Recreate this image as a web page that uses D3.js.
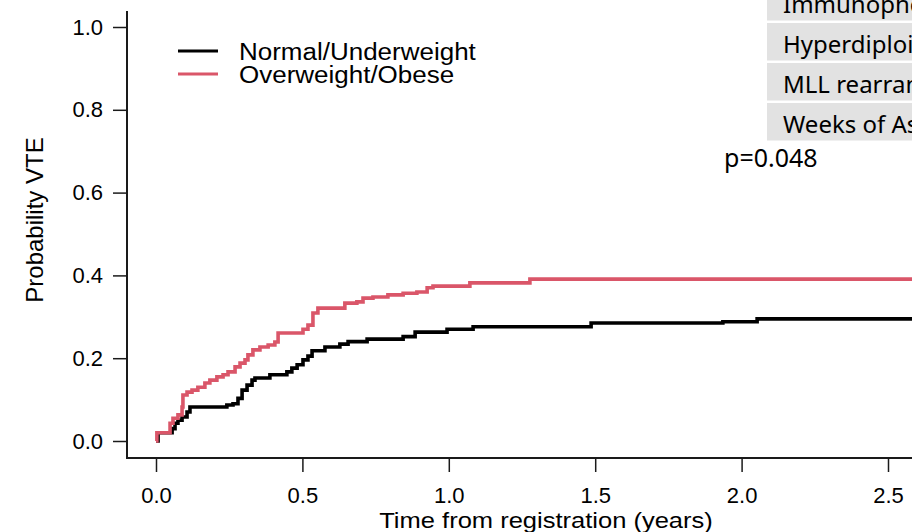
<!DOCTYPE html>
<html>
<head>
<meta charset="utf-8">
<script src="https://cdn.jsdelivr.net/npm/d3@7"></script>
<style>
  html, body { margin: 0; padding: 0; background: #fff; }
  svg { display: block; }
  text { font-family: "Liberation Sans", Arial, sans-serif; fill: #000; }
</style>
</head>
<body>
<div id="chart"></div>
<script>
// Cumulative incidence steps (years, probability)
const normalTimes = [0, 0.007, 0.055, 0.065, 0.075, 0.089, 0.106, 0.116, 0.242, 0.263, 0.28, 0.294, 0.311, 0.328, 0.338, 0.389, 0.447, 0.464, 0.482, 0.502, 0.519, 0.533, 0.577, 0.628, 0.656, 0.721, 0.844, 0.885, 0.994, 1.083, 1.486, 1.936, 2.053, 2.7];
const normalProb  = [0, 0.02, 0.03, 0.043, 0.05, 0.058, 0.07, 0.082, 0.087, 0.09, 0.103, 0.123, 0.135, 0.147, 0.152, 0.16, 0.167, 0.176, 0.184, 0.196, 0.205, 0.218, 0.227, 0.234, 0.24, 0.246, 0.252, 0.263, 0.27, 0.276, 0.285, 0.288, 0.295, 0.295];

const overTimes = [0, 0.003, 0.048, 0.058, 0.075, 0.089, 0.092, 0.106, 0.123, 0.143, 0.167, 0.184, 0.208, 0.229, 0.246, 0.27, 0.287, 0.304, 0.314, 0.331, 0.355, 0.383, 0.406, 0.417, 0.502, 0.519, 0.536, 0.553, 0.645, 0.686, 0.707, 0.741, 0.792, 0.844, 0.891, 0.926, 0.946, 1.072, 1.277, 2.7];
const overProb  = [0, 0.02, 0.043, 0.055, 0.063, 0.082, 0.111, 0.118, 0.123, 0.13, 0.14, 0.147, 0.155, 0.16, 0.167, 0.179, 0.188, 0.196, 0.208, 0.22, 0.227, 0.232, 0.239, 0.261, 0.27, 0.28, 0.309, 0.321, 0.333, 0.336, 0.345, 0.348, 0.353, 0.357, 0.36, 0.37, 0.374, 0.382, 0.391, 0.391];

const groups = ['Normal/Underweight', 'Overweight/Obese'];
const groupColors = ['#000000', '#DA5669'];
const xTicks = [0, 0.5, 1, 1.5, 2, 2.5];
const yTicks = [0, 0.2, 0.4, 0.6, 0.8, 1.0];
const tableRows = ['Immunophenotype', 'Hyperdiploid', 'MLL rearranged', 'Weeks of Asparaginase'];
const pText = 'p=0.048';

const width = 912, height = 532;

const svg = d3.select('#chart').append('svg')
    .attr('width', width)
    .attr('height', height);

const x = d3.scaleLinear().domain([0, 2.5]).range([156, 888]);
const y = d3.scaleLinear().domain([0, 1]).range([441, 27]);

// table rows peeking in at top right
const rows = svg.append('g');
tableRows.forEach((t, i) => {
    const top = -17 + i * 40;
    rows.append('rect')
        .attr('x', 767).attr('y', top)
        .attr('width', 150).attr('height', 37.5)
        .attr('fill', '#e2e2e2');
    rows.append('text')
        .attr('x', 783).attr('y', top + 30)
        .style('font-family', '"Noto Sans", "Open Sans", sans-serif')
        .style('font-size', '24px')
        .text(t);
});

svg.append('text')
    .attr('x', 724).attr('y', 167)
    .style('font-family', '"Noto Sans", "Open Sans", sans-serif')
    .style('font-size', '25px')
    .text(pText);

// L-shaped frame
svg.append('path')
    .attr('d', 'M127,11V458H912')
    .attr('fill', 'none')
    .attr('stroke', '#1a1a1a')
    .attr('stroke-width', 2);

// axes
const yAxis = svg.append('g')
    .attr('transform', 'translate(127,0)')
    .call(d3.axisLeft(y).tickValues(yTicks).tickFormat(d3.format('.1f')).tickSize(14).tickPadding(10));
yAxis.select('.domain').remove();
yAxis.selectAll('line').attr('stroke', '#1a1a1a').attr('stroke-width', 1.5);
yAxis.selectAll('text')
    .style('font-family', '"Liberation Sans", Arial, sans-serif')
    .style('font-size', '22px')
    .attr('fill', '#000');

const xAxis = svg.append('g')
    .attr('transform', 'translate(0,458)')
    .call(d3.axisBottom(x).tickValues(xTicks).tickFormat(d3.format('.1f')).tickSize(14).tickPadding(15));
xAxis.select('.domain').remove();
xAxis.selectAll('line').attr('stroke', '#1a1a1a').attr('stroke-width', 1.5);
xAxis.selectAll('text')
    .style('font-family', '"Liberation Sans", Arial, sans-serif')
    .style('font-size', '22px')
    .attr('fill', '#000');

// axis titles
svg.append('text')
    .attr('transform', 'translate(546,528) scale(1.16,1)')
    .attr('text-anchor', 'middle')
    .style('font-size', '22px')
    .text('Time from registration (years)');

svg.append('text')
    .attr('transform', 'translate(43,220) rotate(-90)')
    .attr('text-anchor', 'middle')
    .style('font-size', '24px')
    .text('Probability VTE');

// curves
svg.append('clipPath').attr('id', 'plotclip')
    .append('rect').attr('x', 128).attr('y', 0).attr('width', width).attr('height', 457);

const line = d3.line()
    .x(d => x(d[0]))
    .y(d => y(d[1]))
    .curve(d3.curveStepAfter);

const series = [
    d3.zip(normalTimes, normalProb),
    d3.zip(overTimes, overProb)
];

svg.append('g').attr('clip-path', 'url(#plotclip)')
    .selectAll('path')
    .data(series)
    .enter()
    .append('path')
    .attr('d', line)
    .attr('fill', 'none')
    .attr('stroke', (d, i) => groupColors[i])
    .attr('stroke-width', 3.6);

// legend
const legend = svg.append('g');
groups.forEach((g, i) => {
    const ly = 51 + i * 23;
    legend.append('line')
        .attr('x1', 178).attr('x2', 218)
        .attr('y1', ly).attr('y2', ly)
        .attr('stroke', groupColors[i])
        .attr('stroke-width', 3.2);
    legend.append('text')
        .attr('transform', `translate(239,${ly + 9}) scale(1.13,1)`)
        .style('font-size', '23px')
        .text(g);
});
</script>
</body>
</html>
